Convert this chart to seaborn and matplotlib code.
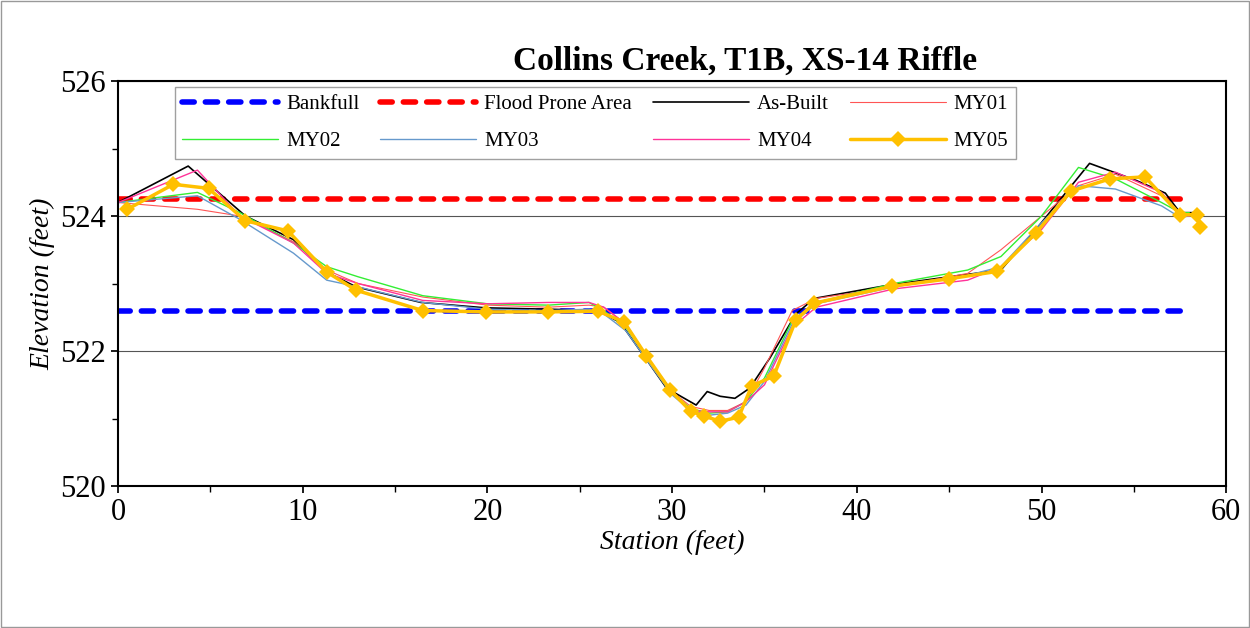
import numpy as np
import pandas as pd
import matplotlib
matplotlib.use("Agg")
import matplotlib.pyplot as plt
import seaborn as sns
from matplotlib.ticker import MultipleLocator

sns.set_theme(style="white")
plt.rcParams["font.family"] = ["Liberation Serif", "DejaVu Serif"]
plt.rcParams["text.color"] = "black"
plt.rcParams["xtick.color"] = "black"
plt.rcParams["ytick.color"] = "black"
plt.rcParams["axes.labelcolor"] = "black"
plt.rcParams["lines.dash_capstyle"] = "round"

bank_x = [0, 58]
bankfull = [522.6, 522.6]
flood = [524.25, 524.25]

asbuilt_x = [0, 3.8, 6.9, 9.5, 11.3, 12.9, 16.4, 19.9, 23.3, 26.0, 27.2, 28.8, 29.7, 31.3, 31.9, 32.6, 33.4, 34.2,
             35.3, 36.7, 37.7, 41.8, 45.0, 47.8, 49.9, 52.6, 55.1, 56.7, 57.5, 58.3]
asbuilt_y = [524.2, 524.74, 524.0, 523.65, 523.17, 522.95, 522.72, 522.64, 522.62, 522.6, 522.42, 521.8, 521.45,
             521.2, 521.4, 521.33, 521.3, 521.45, 521.9, 522.55, 522.78, 522.98, 523.1, 523.2, 523.87, 524.78,
             524.53, 524.34, 524.05, 524.05]

st = [0.5, 3.0, 4.9, 6.9, 9.2, 11.3, 12.9, 16.5, 19.9, 23.3, 26.0, 27.4, 28.6, 29.9, 31.0, 31.7, 32.6, 33.6,
      34.3, 35.5, 36.7, 37.7, 41.9, 45.0, 47.6, 49.7, 51.6, 53.7, 55.6, 57.5, 58.4, 58.6]
my05 = [524.1, 524.47, 524.41, 523.93, 523.78, 523.17, 522.9, 522.6, 522.58, 522.58, 522.59, 522.43, 521.93,
        521.42, 521.11, 521.04, 520.96, 521.02, 521.48, 521.63, 522.46, 522.71, 522.96, 523.07, 523.18, 523.75,
        524.37, 524.55, 524.58, 524.02, 524.02, 523.84]

my_x = [0, 4.3, 6.6, 9.5, 11.3, 13.0, 16.5, 20.0, 23.3, 25.5, 26.3, 27.5, 28.8, 30.0, 31.0, 32.0, 33.0, 34.0,
        35.0, 36.5, 37.8, 42.0, 46.0, 47.8, 50.0, 52.0, 54.0, 56.5, 57.5, 58.0]
my01 = [524.2, 524.1, 524.0, 523.62, 523.2, 523.0, 522.8, 522.68, 522.65, 522.68, 522.65, 522.4, 521.85, 521.4,
        521.18, 521.12, 521.12, 521.25, 521.75, 522.6, 522.78, 522.95, 523.15, 523.5, 524.0, 524.45, 524.62,
        524.3, 524.05, 524.0]
my02 = [524.2, 524.35, 524.05, 523.6, 523.25, 523.1, 522.82, 522.7, 522.68, 522.72, 522.6, 522.35, 521.85,
        521.38, 521.15, 521.08, 521.1, 521.25, 521.6, 522.45, 522.72, 523.0, 523.2, 523.4, 524.0, 524.72, 524.55,
        524.2, 524.05, 524.05]
my03 = [524.2, 524.3, 523.95, 523.45, 523.05, 522.95, 522.72, 522.62, 522.6, 522.62, 522.55, 522.3, 521.8,
        521.35, 521.12, 521.05, 521.08, 521.2, 521.55, 522.4, 522.7, 522.95, 523.12, 523.25, 523.9, 524.45, 524.4,
        524.15, 523.98, 524.0]
my04 = [524.2, 524.68, 524.0, 523.6, 523.15, 523.0, 522.75, 522.7, 522.72, 522.72, 522.65, 522.4, 521.85,
        521.4, 521.12, 521.1, 521.1, 521.25, 521.5, 522.35, 522.65, 522.92, 523.05, 523.25, 523.8, 524.5, 524.65,
        524.35, 524.02, 524.0]

fig = plt.figure(figsize=(12.5, 6.28), dpi=100)
ax = fig.add_axes([0.0944, 0.226, 0.8866, 0.645])

sns.lineplot(x=bank_x, y=bankfull, ax=ax, color="#0000FF", lw=4, dashes=(2.2, 2.0), label="Bankfull")
sns.lineplot(x=bank_x, y=flood, ax=ax, color="#FF0000", lw=4, dashes=(2.2, 2.0), label="Flood Prone Area")
sns.lineplot(x=asbuilt_x, y=asbuilt_y, ax=ax, color="black", lw=1.2, label="As-Built", sort=False)
sns.lineplot(x=my_x, y=my01, ax=ax, color="#FF5555", lw=0.8, label="MY01", sort=False)
sns.lineplot(x=my_x, y=my02, ax=ax, color="#33EE33", lw=1.0, label="MY02", sort=False)
sns.lineplot(x=my_x, y=my03, ax=ax, color="#6699CC", lw=1.0, label="MY03", sort=False)
sns.lineplot(x=my_x, y=my04, ax=ax, color="#FF3399", lw=1.0, label="MY04", sort=False)
sns.lineplot(x=st, y=my05, ax=ax, color="#FFC000", lw=2.5, marker="D", markersize=8, markeredgewidth=0,
             label="MY05", sort=False)

ax.set_xlim(0, 60)
ax.set_ylim(520, 526)
ax.xaxis.set_major_locator(MultipleLocator(10))
ax.xaxis.set_minor_locator(MultipleLocator(5))
ax.yaxis.set_major_locator(MultipleLocator(2))
ax.yaxis.set_minor_locator(MultipleLocator(1))
ax.tick_params(which="both", direction="out", left=True, bottom=True, labelsize=22, color="black")
ax.tick_params(which="major", length=5)
ax.tick_params(which="minor", length=4)
ax.grid(axis="y", which="major", color="#555555", lw=0.8)
for s in ax.spines.values():
    s.set_color("black")
    s.set_linewidth(1.5)
ax.set_xlabel("Station (feet)", fontsize=20, style="italic", labelpad=2)
ax.set_ylabel("Elevation (feet)", fontsize=20, style="italic", labelpad=4)
ax.set_title("Collins Creek, T1B, XS-14 Riffle", fontsize=24, fontweight="bold", x=0.566, pad=8)

# legend filled row by row, as in the original
h, l = ax.get_legend_handles_labels()
order = [0, 4, 1, 5, 2, 6, 3, 7]
leg = ax.legend([h[i] for i in order], [l[i] for i in order], ncol=4, loc="upper left",
                bbox_to_anchor=(0.051, 0.985), fontsize=15, frameon=True, fancybox=False,
                edgecolor="#888888", handlelength=4.6, handletextpad=0.4, columnspacing=1.0,
                borderaxespad=0, labelspacing=0.85, borderpad=0.35)
leg.get_frame().set_linewidth(1.0)

fig.patches.append(plt.Rectangle((0.001, 0.002), 0.998, 0.996, transform=fig.transFigure, fill=False,
                                 edgecolor="#999999", lw=1))
fig.savefig("out.png", dpi=100)
